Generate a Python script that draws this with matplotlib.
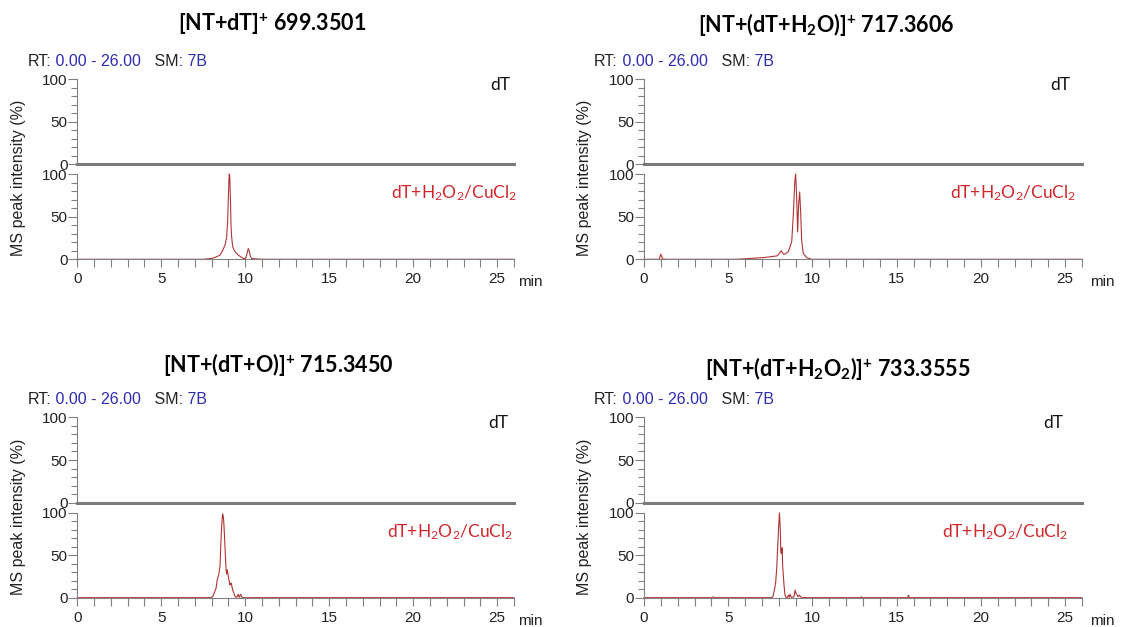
import matplotlib
matplotlib.use("Agg")
import matplotlib.pyplot as plt
from matplotlib.ticker import MultipleLocator, FixedLocator

plt.rcParams['font.family'] = ['Liberation Sans', 'DejaVu Sans']
plt.rcParams['mathtext.fontset'] = 'custom'
plt.rcParams['mathtext.rm'] = 'Lato'
plt.rcParams['mathtext.it'] = 'Lato:italic'
plt.rcParams['mathtext.bf'] = 'Lato:bold'

# ---- data (time in min, relative intensity in %) ----
titles = [
    r"[NT+dT]$^{\mathbf{+}}$ 699.3501",
    r"[NT+(dT+H$_{\mathbf{2}}$O)]$^{\mathbf{+}}$ 717.3606",
    r"[NT+(dT+O)]$^{\mathbf{+}}$ 715.3450",
    r"[NT+(dT+H$_{\mathbf{2}}$O$_{\mathbf{2}}$)]$^{\mathbf{+}}$ 733.3555",
]

# control sample (dT alone): flat trace in all four panels
dt_time = [0, 26]
dt_int = [0, 0]

# treated sample dT+H2O2/CuCl2
t1 = [0, 7.5, 8.0, 8.3, 8.5, 8.65, 8.8, 8.89, 8.95, 8.99, 9.03, 9.05, 9.08, 9.12,
      9.15, 9.19, 9.25, 9.35, 9.58, 9.88, 10.02, 10.12, 10.18, 10.23, 10.3, 10.38,
      10.6, 11, 26]
i1 = [0, 0, 1, 3, 5, 10, 17, 26, 45, 70, 95, 100, 95, 70,
      40, 26, 15, 10, 5, 1, 1, 8, 12.5, 10, 4, 1,
      0.5, 0, 0]

t2 = [0, 0.9, 1.0, 1.1, 1.3, 5.5, 6.3, 7.1, 7.9, 8.05, 8.14, 8.28, 8.4, 8.57, 8.77,
      8.86, 8.95, 9.0, 9.05, 9.12, 9.18, 9.24, 9.3, 9.36, 9.45, 9.65, 9.95, 26]
i2 = [0, 0, 6, 0.5, 0, 0, 1, 2, 4, 7, 10, 6, 6.5, 9, 21,
      51, 90, 100, 80, 32, 65, 79, 55, 22, 7, 2, 0, 0]

t3 = [0, 7.9, 8.06, 8.14, 8.26, 8.33, 8.42, 8.5, 8.54, 8.6, 8.65, 8.7, 8.73, 8.79,
      8.85, 8.89, 8.93, 8.97, 9.01, 9.09, 9.13, 9.17, 9.25, 9.33, 9.4, 9.5, 9.58,
      9.64, 9.72, 9.8, 9.9, 26]
i3 = [0, 0, 1, 5, 11, 21, 27, 38, 62, 86, 99, 95, 86, 62,
      35, 28, 33, 28, 23, 15, 17, 17, 9, 5, 1, 0.5, 4,
      0.5, 4, 0.5, 0, 0]

t4 = [0, 4.0, 4.1, 4.2, 7.55, 7.65, 7.68, 7.76, 7.82, 7.88, 7.94, 8.0, 8.04, 8.08,
      8.1, 8.12, 8.16, 8.2, 8.23, 8.31, 8.37, 8.45, 8.52, 8.57, 8.62, 8.67, 8.75,
      8.9, 8.97, 9.02, 9.07, 9.15, 9.22, 9.35, 12.85, 12.9, 12.95, 15.65, 15.7,
      15.75, 26]
i4 = [0, 0, 1, 0, 0, 1, 4, 11, 19, 35, 62, 86, 100, 85,
      74, 54, 52, 59, 38, 15, 3, 0, 0.5, 3, 0.5, 4, 0.5,
      1, 9, 5, 4, 1, 3, 0, 0, 1, 0, 0, 3,
      0, 0]

traces = [(t1, i1), (t2, i2), (t3, i3), (t4, i4)]
upper_label = "dT"
lower_label = r"dT+H$_{2}$O$_{2}$/CuCl$_{2}$"
rt_parts = [("RT:", "#222222"), (" 0.00 - 26.00", "#2d2db4"),
            ("   SM:", "#222222"), (" 7B", "#2d2db4")]

# ---- layout (pixel positions in a 1124x627 image) ----
W, H = 1124, 627
fig = plt.figure(figsize=(W / 100, H / 100), dpi=100)


def rect(x0, y0, x1, y1):
    return [x0 / W, 1 - y1 / H, (x1 - x0) / W, (y1 - y0) / H]


def fx(x):
    return x / W


def fy(y):
    return 1 - y / H


# left, right, upper top, upper bottom, lower top, lower bottom, title x, title y,
# dT right, red label right, "min" x
panels = [
    (77.3, 514, 79.3, 164, 174, 259.3, 272, 24, 510, 517, 518),
    (644, 1082, 79.3, 164, 174, 259.3, 826, 24, 1070, 1076, 1090),
    (77.3, 514, 417.3, 502.7, 513, 597.7, 278, 365, 508, 513, 518),
    (644, 1082, 417.3, 502.7, 513, 597.7, 838, 368, 1063, 1068, 1090),
]

grey = "#808080"
trace_col = "#b03434"
tick_fs = 11

for k, (x0, x1, ut, ub, lt, lb, tx, ty, dtx, rx, mx) in enumerate(panels):
    # lower axes (treated sample)
    axl = fig.add_axes(rect(x0, lt, x1, lb))
    # upper axes (control)
    axu = fig.add_axes(rect(x0, ut, x1, ub))

    for ax in (axu, axl):
        ax.set_xlim(0, 26)
        ax.set_ylim(0, 100)
        ax.patch.set_alpha(0)
        for s in ("top", "right"):
            ax.spines[s].set_visible(False)
        ax.spines["left"].set_color(grey)
        ax.yaxis.set_major_locator(FixedLocator([0, 50, 100]))
        ax.yaxis.set_minor_locator(MultipleLocator(10))
        ax.tick_params(axis="y", which="major", length=6.5, width=0.8, color=grey,
                       pad=0.5, labelsize=tick_fs, labelcolor="#222222")
        ax.tick_params(axis="y", which="minor", length=4.3, width=0.8, color=grey)

    axu.spines["bottom"].set_visible(False)
    axu.set_xticks([])
    axu.plot(dt_time, dt_int, color="#7a7a7a", lw=2.2, clip_on=False)

    axl.spines["bottom"].set_color(grey)
    axl.xaxis.set_major_locator(MultipleLocator(5))
    axl.xaxis.set_minor_locator(MultipleLocator(1))
    axl.tick_params(axis="x", which="major", length=6, width=0.8, color=grey,
                    pad=3.5, labelsize=tick_fs, labelcolor="#222222")
    axl.tick_params(axis="x", which="minor", length=5.5, width=0.8, color=grey)
    t, v = traces[k]
    axl.plot(t, v, color=trace_col, lw=0.8, clip_on=False)

    # texts
    fig.text(fx(tx), fy(ty), titles[k], ha="center", va="center",
             fontsize=15.5, fontweight="bold", family="Lato")
    fig.text(fx(dtx), fy(ut + 6), upper_label, ha="right", va="center",
             fontsize=12.5, family="Lato", color="#111111")
    fig.text(fx(rx), fy(lt + 19), lower_label, ha="right", va="center",
             fontsize=12.5, family="Lato", color="#d0262a")
    fig.text(fx(mx), fy(lb + 23), "min", ha="left", va="center",
             fontsize=tick_fs, color="#222222")
    fig.text(fx(x0 - 59), fy(lb - 81), "MS peak intensity (%)", rotation=90,
             ha="center", va="center", fontsize=11.5, color="#222222")

    prev = fig.text(fx(x0 - 50), fy(ut - 18), rt_parts[0][0], ha="left",
                    va="center", fontsize=11.5, color=rt_parts[0][1])
    for s, c in rt_parts[1:]:
        prev = axu.annotate(s, xy=(1, 0), xycoords=prev, ha="left", va="bottom",
                            fontsize=11.5, color=c, annotation_clip=False)

fig.savefig("out.png", dpi=100, facecolor="white")
